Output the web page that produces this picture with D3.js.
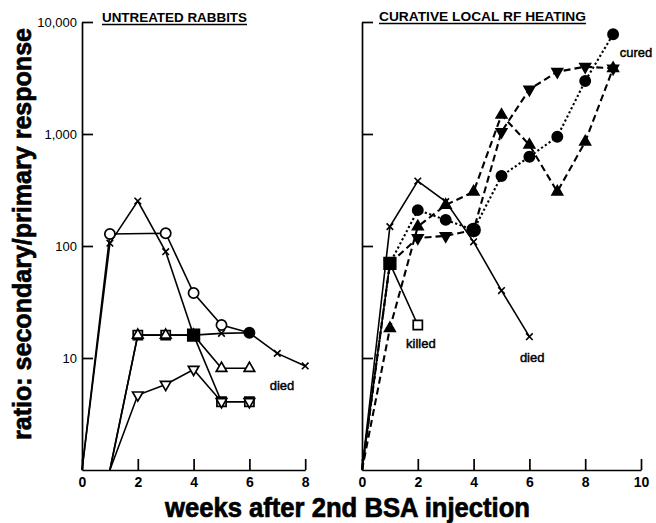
<!DOCTYPE html>
<html>
<head>
<meta charset="utf-8">
<script src="https://cdn.jsdelivr.net/npm/d3@7"></script>
<style>
    body { margin: 0; background: #fff; }
    svg { display: block; font-family: "Liberation Sans", Arial, sans-serif; }
    .axis path, .axis line { stroke: #000; stroke-width: 1.7; }
    .y.axis text { font-size: 13px; fill: #000; }
    .x.axis text { font-size: 14px; font-weight: bold; fill: #000; }
    .note { font-size: 13px; stroke: #000; stroke-width: 0.45; }
    .title { font-weight: bold; stroke: #000; stroke-width: 0.7; }
</style>
</head>
<body>
<div id="chart"></div>
<script>
// weeks after 2nd BSA injection, ratio secondary/primary (1 = baseline at origin)

// untreated rabbits
const untreatedCircleWeeks = [0, 1, 3, 4, 5, 6];
const untreatedCircleRatio = [1, 128, 130, 38, 19.7, 16.8];
const untreatedCrossWeeks = [0, 1, 2, 3, 4, 5, 6, 7, 8];
const untreatedCrossRatio = [1, 106, 252, 89, 16, 16.6, 16.8, 11, 8.5];
const untreatedSquareWeeks = [1, 2, 3, 4, 5, 6];
const untreatedSquareRatio = [1, 16, 16, 16, 4.07, 4.07];
const untreatedTriangleWeeks = [1, 2, 3, 4, 5, 6];
const untreatedTriangleRatio = [1, 16, 16, 16, 8.1, 8.1];
const untreatedDownWeeks = [1, 2, 3, 4, 5, 6];
const untreatedDownRatio = [1, 4.67, 5.8, 7.9, 4.07, 4.07];

// curative local RF heating
const rfCrossWeeks = [0, 1, 2, 3, 4, 5, 6];
const rfCrossRatio = [1, 149, 380, 249, 109, 40, 15.5];
const rfSquareWeeks = [0, 1, 2];
const rfSquareRatio = [1, 70, 19.7];
const rfCircleWeeks = [0, 1, 2, 3, 4, 5, 6, 7, 8, 9];
const rfCircleRatio = [1, 70, 209, 171, 139, 422, 627, 946, 2972, 7770];
const rfDownWeeks = [0, 1, 2, 3, 4, 5, 6, 7, 8, 9];
const rfDownRatio = [1, 70, 118, 123, 139, 1047, 2500, 3595, 3990, 3856];
const rfUpWeeks = [0, 1, 2, 3, 4, 5, 6, 7, 8, 9];
const rfUpRatio = [1, 18.4, 149, 232, 305, 1480, 798, 305, 852, 3856];

const yTickValues = [10, 100, 1000, 10000];
const yTickLabels = ['10', '100', '1,000', '10,000'];
const leftTicks = [0, 2, 4, 6, 8];
const rightTicks = [0, 2, 4, 6, 8, 10];

const zip = (w, r) => w.map((d, i) => ({ week: d, ratio: r[i] }));

// marker order matters: squares first so the triangles show inside them
const leftSeries = [
    { data: zip(untreatedCircleWeeks, untreatedCircleRatio), symbol: 'circle', open: true, solidAt: [6] },
    { data: zip(untreatedCrossWeeks, untreatedCrossRatio), symbol: 'cross' },
    { data: zip(untreatedSquareWeeks, untreatedSquareRatio), symbol: 'square', open: true, solidAt: [4] },
    { data: zip(untreatedTriangleWeeks, untreatedTriangleRatio), symbol: 'up', open: true, solidAt: [4] },
    { data: zip(untreatedDownWeeks, untreatedDownRatio), symbol: 'down', open: true }
];

const rightSeries = [
    { data: zip(rfCrossWeeks, rfCrossRatio), symbol: 'cross' },
    { data: zip(rfSquareWeeks, rfSquareRatio), symbol: 'square', open: true, solidAt: [1] },
    { data: zip(rfUpWeeks, rfUpRatio), symbol: 'up', dash: '7,4' },
    { data: zip(rfDownWeeks, rfDownRatio), symbol: 'down', dash: '7,4' },
    { data: zip(rfCircleWeeks, rfCircleRatio), symbol: 'circle', dash: '2.2,2.4', bigAt: [4] }
];

const width = 656;
const height = 523;
const margin = { top: 22, bottom: 53, left: 82 };
const chartHeight = height - margin.top - margin.bottom;
const weekPx = 27.9;

const svg = d3.select('#chart')
    .append('svg')
    .attr('width', width)
    .attr('height', height);

const yScale = d3.scaleLog()
    .domain([1, 10000])
    .range([chartHeight, 0]);

function symbolPath(type, big) {
    const s = big ? 1.6 : 1;
    if (type === 'circle') return d3.symbol(d3.symbolCircle, 82 * s)();
    if (type === 'square') return d3.symbol(d3.symbolSquare, 84 * s)();
    if (type === 'up' || type === 'down') return d3.symbol(d3.symbolTriangle, 48 * s)();
    return d3.symbol(d3.symbolX, 30)();
}

function plot(chart, xScale, series, ticks, showLabels) {
    const line = d3.line()
        .x(d => xScale(d.week))
        .y(d => yScale(d.ratio));

    chart.selectAll('.series')
        .data(series)
        .enter()
        .append('path')
        .classed('series', true)
        .attr('d', d => line(d.data))
        .attr('fill', 'none')
        .attr('stroke', '#000')
        .attr('stroke-width', d => d.dash ? 2.1 : 1.6)
        .attr('stroke-dasharray', d => d.dash || null);

    series.forEach(s => {
        const pts = s.data.filter(d => d.ratio > 1);
        chart.append('g')
            .selectAll('path')
            .data(pts)
            .enter()
            .append('path')
            .attr('transform', d => `translate(${xScale(d.week)},${yScale(d.ratio)})` +
                (s.symbol === 'down' ? ' rotate(180)' : ''))
            .attr('d', d => symbolPath(s.symbol,
                (s.bigAt && s.bigAt.includes(d.week)) || (s.solidAt && s.solidAt.includes(d.week) && s.symbol === 'square')))
            .attr('fill', d => {
                if (s.symbol === 'cross') return 'none';
                const solid = !s.open || (s.solidAt && s.solidAt.includes(d.week));
                return solid ? '#000' : '#fff';
            })
            .attr('stroke', '#000')
            .attr('stroke-width', s.symbol === 'cross' ? 1.6 : 1.7);
    });

    const xAxis = d3.axisBottom(xScale)
        .tickValues(ticks)
        .tickSize(-11)
        .tickSizeOuter(0)
        .tickPadding(7);

    chart.append('g')
        .classed('x axis', true)
        .attr('transform', `translate(0,${chartHeight})`)
        .call(xAxis);

    const yAxis = d3.axisLeft(yScale)
        .tickValues(yTickValues)
        .tickSize(-11)
        .tickSizeOuter(0)
        .tickPadding(5)
        .tickFormat((d, i) => showLabels ? yTickLabels[i] : '');

    chart.append('g')
        .classed('y axis', true)
        .call(yAxis);
}

function panelTitle(x0, x1, baseline, text) {
    svg.append('text')
        .attr('x', x0)
        .attr('y', baseline)
        .attr('textLength', x1 - x0)
        .attr('lengthAdjust', 'spacingAndGlyphs')
        .style('font-size', '13.5px')
        .style('font-weight', 'bold')
        .text(text);
    svg.append('line')
        .attr('x1', x0).attr('x2', x1)
        .attr('y1', baseline + 3).attr('y2', baseline + 3)
        .attr('stroke', '#000')
        .attr('stroke-width', 1.6);
}

// left panel
const xLeft = d3.scaleLinear().domain([0, 8]).range([0, 8 * weekPx]);
const left = svg.append('g')
    .attr('transform', `translate(${margin.left},${margin.top})`);
plot(left, xLeft, leftSeries, leftTicks, true);

// right panel
const xRight = d3.scaleLinear().domain([0, 10]).range([0, 10 * weekPx]);
const right = svg.append('g')
    .attr('transform', `translate(362,${margin.top})`);
plot(right, xRight, rightSeries, rightTicks, false);

function note(chart, xScale, week, ratio, text) {
    chart.append('text')
        .classed('note', true)
        .attr('x', xScale(week))
        .attr('y', yScale(ratio))
        .style('text-anchor', 'middle')
        .text(text);
}
note(left, xLeft, 7.17, 5.2, 'died');
note(right, xRight, 2.11, 12.3, 'killed');
note(right, xRight, 6.1, 9.3, 'died');
note(right, xRight, 9.82, 4900, 'cured');

panelTitle(102, 247, 21.5, 'UNTREATED RABBITS');
panelTitle(379, 586, 20.5, 'CURATIVE LOCAL RF HEATING');

svg.append('text')
    .classed('title', true)
    .attr('x', 347.5)
    .attr('y', 516.5)
    .attr('textLength', 365)
    .attr('lengthAdjust', 'spacingAndGlyphs')
    .style('font-size', '27px')
    .style('text-anchor', 'middle')
    .text('weeks after 2nd BSA injection');

svg.append('text')
    .classed('title', true)
    .attr('transform', `translate(31,234) rotate(-90)`)
    .attr('textLength', 412)
    .attr('lengthAdjust', 'spacingAndGlyphs')
    .style('font-size', '26px')
    .style('text-anchor', 'middle')
    .text('ratio: secondary/primary response');
</script>
</body>
</html>
